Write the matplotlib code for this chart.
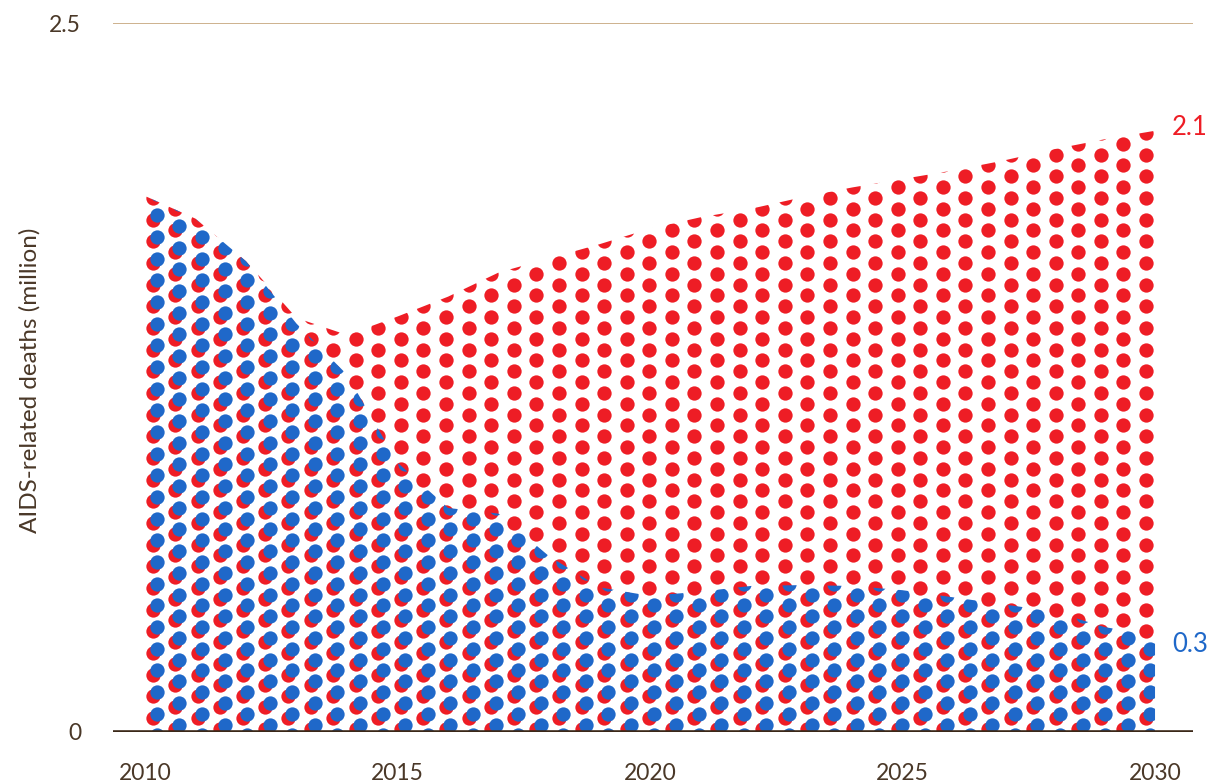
import matplotlib

matplotlib.use("Agg")

import matplotlib.pyplot as plt
import numpy as np
from matplotlib.patches import Polygon

# AIDS-related deaths (million)
years = [2010, 2011, 2012, 2013, 2014, 2015, 2016, 2017, 2018, 2019, 2020,
         2021, 2022, 2023, 2024, 2025, 2026, 2027, 2028, 2029, 2030]
deaths_red = [1.89, 1.81, 1.66, 1.46, 1.40, 1.465, 1.535, 1.62, 1.67, 1.72, 1.775,
              1.815, 1.845, 1.885, 1.92, 1.95, 1.98, 2.015, 2.055, 2.09, 2.12]
deaths_blue = [1.89, 1.81, 1.66, 1.44, 1.26, 0.95, 0.79, 0.77, 0.62, 0.51, 0.48,
               0.495, 0.515, 0.518, 0.515, 0.50, 0.475, 0.45, 0.425, 0.37, 0.34]

x_ticks = [2010, 2015, 2020, 2025, 2030]
y_ticks = [0, 2.5]
y_tick_labels = ["0", "2.5"]

RED = "#ee1d25"
BLUE = "#1f68c9"
TEXT = "#4a3828"
GRID = "#c9ab85"
AXIS = "#3b2818"

plt.rcParams["font.family"] = ["Lato", "DejaVu Sans"]

fig = plt.figure(figsize=(12.14, 7.83), dpi=100)
ax = fig.add_axes([113 / 1214, 51 / 783, 1080 / 1214, 709 / 783])
ax.set_xlim(2009.366, 2030.752)
ax.set_ylim(0, 2.5)

# dot grid (pattern geometry, in data units)
px_x = 50.5   # pixels per year
px_y = 283.6  # pixels per million
col_x = 2010 + 7.5 / px_x + np.arange(45) * 22.58 / px_x
dy = 21.67 / px_y
rows = np.arange(-1, 34) * dy


def dot_grid(dx_off=0.0, dy_off=0.0):
    xs, ys = [], []
    for i, cx in enumerate(col_x):
        base = -0.027 if i % 2 == 0 else -0.0652
        for ry in rows:
            xs.append(cx + dx_off)
            ys.append(base + ry + dy_off)
    return np.array(xs), np.array(ys)


def area_patch(values):
    verts = [(years[0], 0.0)] + list(zip(years, values)) + [(years[-1], 0.0)]
    patch = Polygon(verts, closed=True, facecolor="none", edgecolor="none",
                    transform=ax.transData)
    ax.add_patch(patch)
    return patch


dot_size = (14.3 * 72 / 100) ** 2

red_patch = area_patch(deaths_red)
rx, ry = dot_grid()
red_dots = ax.scatter(rx, ry, s=dot_size, color=RED, linewidths=0, zorder=2)
red_dots.set_clip_path(red_patch)

blue_patch = area_patch(deaths_blue)
bx, by = dot_grid(4.3 / px_x, 4.3 / px_y)
blue_dots = ax.scatter(bx, by, s=dot_size, color=BLUE, linewidths=0, zorder=3)
blue_dots.set_clip_path(blue_patch)

ax.axhline(2.5, color=GRID, lw=1.3, zorder=1)
ax.axhline(0, color=AXIS, lw=2.6, zorder=5)

for side in ["top", "right", "bottom", "left"]:
    ax.spines[side].set_visible(False)

ax.set_xticks(x_ticks)
ax.set_xticklabels([str(y) for y in x_ticks])
ax.set_yticks(y_ticks)
ax.set_yticklabels(y_tick_labels)
ax.tick_params(axis="both", length=0, labelsize=16.5, labelcolor=TEXT)
ax.tick_params(axis="x", pad=22)
ax.tick_params(axis="y", pad=23)

fig.text(30 / 1214, 1 - 380 / 783, "AIDS-related deaths (million)",
         rotation=90, ha="center", va="center", fontsize=17.5, color=TEXT)

ax.text(2030.34, 2.13, f"{deaths_red[-1]:.1f}", color=RED, fontsize=18.5,
        ha="left", va="center")
ax.text(2030.34, 0.307, f"{deaths_blue[-1]:.1f}", color=BLUE, fontsize=18.5,
        ha="left", va="center")

fig.savefig("out.png", dpi=100)
